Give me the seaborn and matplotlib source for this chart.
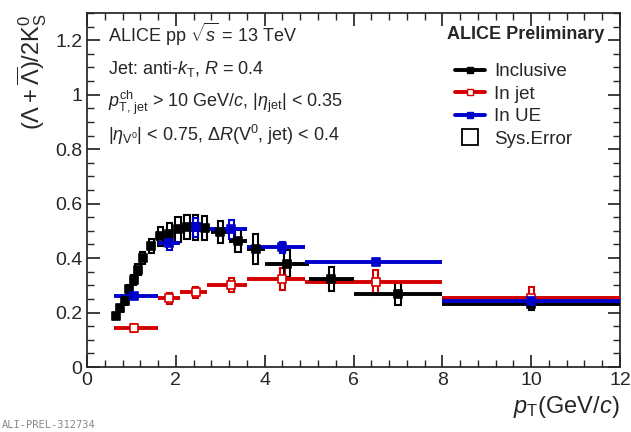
import numpy as np
import pandas as pd
import seaborn as sns
from matplotlib import pyplot as plt
from matplotlib.patches import Rectangle
from matplotlib.lines import Line2D
from matplotlib.ticker import MultipleLocator

# inclusive, fine bins at low pT
incl_pt = [0.65, 0.75, 0.85, 0.95, 1.05, 1.15, 1.25, 1.45, 1.65, 1.85, 2.05, 2.25, 2.45, 2.65, 3.0, 3.4, 3.8, 4.5, 5.5, 7.0, 10.0]
incl_lo = [0.6, 0.7, 0.8, 0.9, 1.0, 1.1, 1.2, 1.4, 1.6, 1.8, 2.0, 2.2, 2.4, 2.6, 2.8, 3.2, 3.6, 4.0, 5.0, 6.0, 8.0]
incl_hi = [0.7, 0.8, 0.9, 1.0, 1.1, 1.2, 1.4, 1.6, 1.8, 2.0, 2.2, 2.4, 2.6, 2.8, 3.2, 3.6, 4.0, 5.0, 6.0, 8.0, 12.0]
incl_y = [0.187, 0.215, 0.242, 0.285, 0.32, 0.358, 0.40, 0.444, 0.48, 0.49, 0.505, 0.515, 0.513, 0.51, 0.495, 0.463, 0.432, 0.38, 0.323, 0.268, 0.23]
incl_sys = [0.01, 0.012, 0.014, 0.016, 0.018, 0.02, 0.022, 0.027, 0.035, 0.04, 0.045, 0.045, 0.045, 0.045, 0.04, 0.04, 0.055, 0.05, 0.045, 0.04, 0.02]

# in jet / in UE share the same bins
bin_pt = [1.05, 1.85, 2.45, 3.25, 4.4, 6.5, 10.0]
bin_lo = [0.6, 1.6, 2.1, 2.7, 3.6, 4.9, 8.0]
bin_hi = [1.6, 2.1, 2.7, 3.6, 4.9, 8.0, 12.0]
jet_y = [0.142, 0.252, 0.274, 0.302, 0.323, 0.311, 0.252]
jet_sys = [0.015, 0.02, 0.02, 0.025, 0.04, 0.045, 0.04]
ue_y = [0.26, 0.454, 0.513, 0.506, 0.44, 0.386, 0.242]
ue_sys = [0.01, 0.025, 0.035, 0.035, 0.02, 0.012, 0.015]

incl = pd.DataFrame({"pt": incl_pt, "lo": incl_lo, "hi": incl_hi, "y": incl_y, "sys": incl_sys})
jet = pd.DataFrame({"pt": bin_pt, "lo": bin_lo, "hi": bin_hi, "y": jet_y, "sys": jet_sys})
ue = pd.DataFrame({"pt": bin_pt, "lo": bin_lo, "hi": bin_hi, "y": ue_y, "sys": ue_sys})

sns.set_theme(style="ticks")
plt.rcParams['font.family'] = ['Liberation Sans', 'DejaVu Sans']
plt.rcParams['mathtext.fontset'] = 'custom'
plt.rcParams['mathtext.rm'] = 'Liberation Sans'
plt.rcParams['mathtext.it'] = 'Liberation Sans:italic'

fig = plt.figure(figsize=(6.31, 4.32), dpi=100)
ax = fig.add_axes([87 / 631, 1 - 367 / 432, 533 / 631, 354 / 432])

BOXW = 0.12


def draw(df, color, open_marker=False):
    for _, r in df.iterrows():
        ax.add_patch(Rectangle((r.pt - BOXW / 2, r.y - r.sys), BOXW, 2 * r.sys,
                               fill=False, edgecolor=color, lw=1.5, zorder=2))
        if r.hi - r.lo > 0.25:
            ax.hlines(r.y, r.lo, r.hi, color=color, lw=2.8, zorder=3)
    sns.scatterplot(data=df, x="pt", y="y", ax=ax, color=color, marker="s", s=30,
                    edgecolor=color, linewidth=1.2, zorder=4, legend=False,
                    facecolor="white" if open_marker else color)


draw(jet, "#d40000", open_marker=True)
draw(incl, "black")
draw(ue, "#0000cc")

ax.set_xlim(0, 12)
ax.set_ylim(0, 1.3)
ax.xaxis.set_major_locator(MultipleLocator(2))
ax.xaxis.set_minor_locator(MultipleLocator(0.4))
ax.yaxis.set_minor_locator(MultipleLocator(0.05))
ax.tick_params(which="both", direction="in", top=True, right=True, labelsize=14)
ax.tick_params(which="major", length=9)
ax.tick_params(which="minor", length=5)
ax.set_yticks([0, 0.2, 0.4, 0.6, 0.8, 1, 1.2])
ax.set_yticklabels(["0", "0.2", "0.4", "0.6", "0.8", "1", "1.2"])
ax.set_xlabel(r"$p_{\rm T}$(GeV/$c$)", fontsize=17, loc="right")
ax.set_ylabel(r"$(\Lambda + \overline{\Lambda})/2{\rm K}^0_{\rm S}$", fontsize=17, loc="top")

fs = 13
ax.text(0.04, 0.938, r"ALICE pp $\sqrt{s}$ = 13 TeV", transform=ax.transAxes, fontsize=fs, va="center")
ax.text(0.97, 0.938, "ALICE Preliminary", transform=ax.transAxes, fontsize=fs, va="center", ha="right", weight="bold")
ax.text(0.04, 0.842, r"Jet: anti-$k_{\rm T}$, $R$ = 0.4", transform=ax.transAxes, fontsize=fs, va="center")
ax.text(0.04, 0.746, r"$p_{\rm T,\,jet}^{\rm ch}$ > 10 GeV/$c$, |$\eta_{\rm jet}$| < 0.35", transform=ax.transAxes, fontsize=fs, va="center")
ax.text(0.04, 0.655, r"|$\eta_{\rm V^0}$| < 0.75, $\Delta R$(V$^0$, jet) < 0.4", transform=ax.transAxes, fontsize=fs, va="center")

handles = [
    Line2D([], [], color="black", lw=2.8, marker="s", markersize=5),
    Line2D([], [], color="#d40000", lw=2.8, marker="s", markersize=5, markerfacecolor="white"),
    Line2D([], [], color="#0000cc", lw=2.8, marker="s", markersize=5),
    Line2D([], [], color="black", lw=0, marker="s", markersize=12, markerfacecolor="white", markeredgewidth=1.3),
]
ax.legend(handles, ["Inclusive", "In jet", "In UE", "Sys.Error"], loc="upper left",
          bbox_to_anchor=(0.665, 0.895), frameon=False, fontsize=13.5, handlelength=1.6,
          handletextpad=0.5, labelspacing=0.28, borderpad=0.2)

fig.text(0.003, 0.01, "ALI-PREL-312734", fontsize=7.5, color="#888888", family="DejaVu Sans Mono")

fig.savefig("out.png", dpi=100)
